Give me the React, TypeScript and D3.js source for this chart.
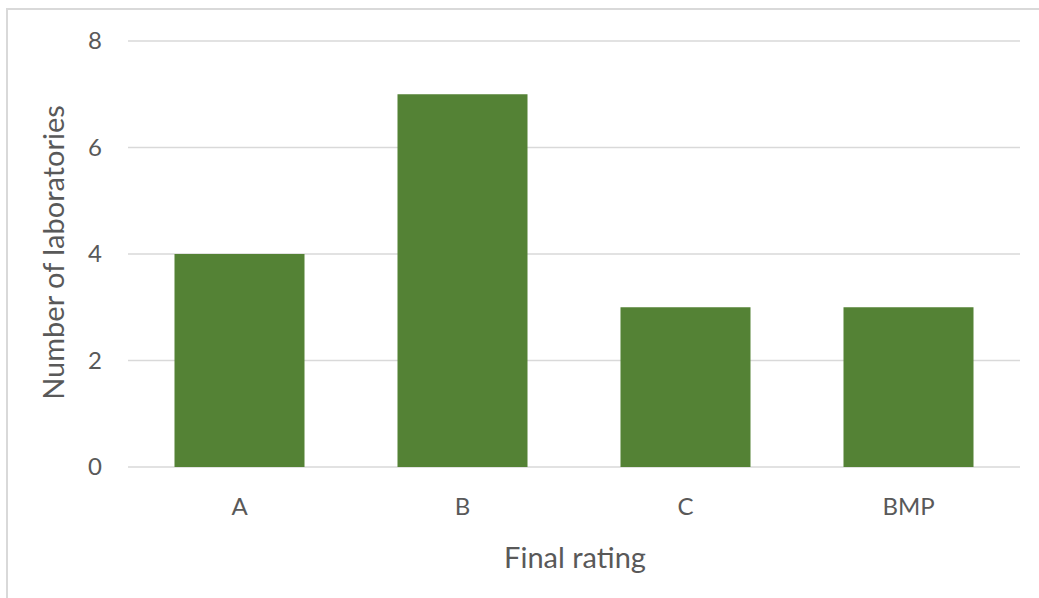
import React, { useRef, useEffect } from 'react';
import * as d3 from 'd3';

const categories = ['A', 'B', 'C', 'BMP'];
const counts = [4, 7, 3, 3];
const yTicks = [0, 2, 4, 6, 8];

const App: React.FC = () => {
  const svgRef = useRef<SVGSVGElement>(null);

  useEffect(() => {
    if (!svgRef.current) return;
    const svg = d3.select(svgRef.current);
    svg.selectAll('*').remove();

    const W = 1039;
    const H = 598;
    const margin = { top: 41, right: 19, bottom: 131, left: 128 };
    const width = W - margin.left - margin.right;
    const height = H - margin.top - margin.bottom;
    const font = 'Lato, "Open Sans", sans-serif';
    const textColor = '#595959';

    svg.attr('width', W).attr('height', H);

    // outer chart border
    svg.append('rect')
      .attr('x', 7)
      .attr('y', 9)
      .attr('width', W + 10)
      .attr('height', H + 10)
      .attr('fill', 'white')
      .attr('stroke', '#d9d9d9')
      .attr('stroke-width', 2);

    const chart = svg.append('g')
      .attr('transform', `translate(${margin.left},${margin.top})`);

    const x = d3.scaleBand()
      .domain(categories)
      .range([0, width])
      .paddingInner(0.417)
      .paddingOuter(0.2085);

    const y = d3.scaleLinear()
      .domain([0, 8])
      .range([height, 0]);

    // gridlines
    chart.selectAll('line.grid')
      .data(yTicks)
      .enter()
      .append('line')
      .attr('class', 'grid')
      .attr('x1', 0)
      .attr('x2', width)
      .attr('y1', d => y(d))
      .attr('y2', d => y(d))
      .attr('stroke', '#d9d9d9')
      .attr('stroke-width', 1.5);

    // y tick labels
    chart.selectAll('text.ytick')
      .data(yTicks)
      .enter()
      .append('text')
      .attr('class', 'ytick')
      .attr('x', -26)
      .attr('y', d => y(d))
      .attr('dy', '0.35em')
      .attr('text-anchor', 'end')
      .style('font-family', font)
      .style('font-size', '24px')
      .style('fill', textColor)
      .text(d => d);

    // bars
    chart.selectAll('rect.bar')
      .data(counts)
      .enter()
      .append('rect')
      .attr('class', 'bar')
      .attr('x', (d, i) => x(categories[i])!)
      .attr('width', x.bandwidth())
      .attr('y', d => y(d))
      .attr('height', d => height - y(d))
      .attr('fill', '#548235');

    // x tick labels
    chart.selectAll('text.xtick')
      .data(categories)
      .enter()
      .append('text')
      .attr('class', 'xtick')
      .attr('x', d => x(d)! + x.bandwidth() / 2)
      .attr('y', height + 40)
      .attr('dy', '0.35em')
      .attr('text-anchor', 'middle')
      .style('font-family', font)
      .style('font-size', '24px')
      .style('fill', textColor)
      .text(d => d);

    // x axis title
    chart.append('text')
      .attr('x', width / 2 + 1)
      .attr('y', height + 91)
      .attr('dy', '0.35em')
      .attr('text-anchor', 'middle')
      .style('font-family', font)
      .style('font-size', '29px')
      .style('fill', textColor)
      .text('Final rating');

    // y axis title
    chart.append('text')
      .attr('transform', 'rotate(-90)')
      .attr('x', -height / 2 + 1.5)
      .attr('y', -74)
      .attr('dy', '0.35em')
      .attr('text-anchor', 'middle')
      .style('font-family', font)
      .style('font-size', '29px')
      .style('fill', textColor)
      .text('Number of laboratories');
  }, []);

  return (
    <svg ref={svgRef} style={{ position: 'absolute', left: 0, top: 0 }}></svg>
  );
};

export default App;
